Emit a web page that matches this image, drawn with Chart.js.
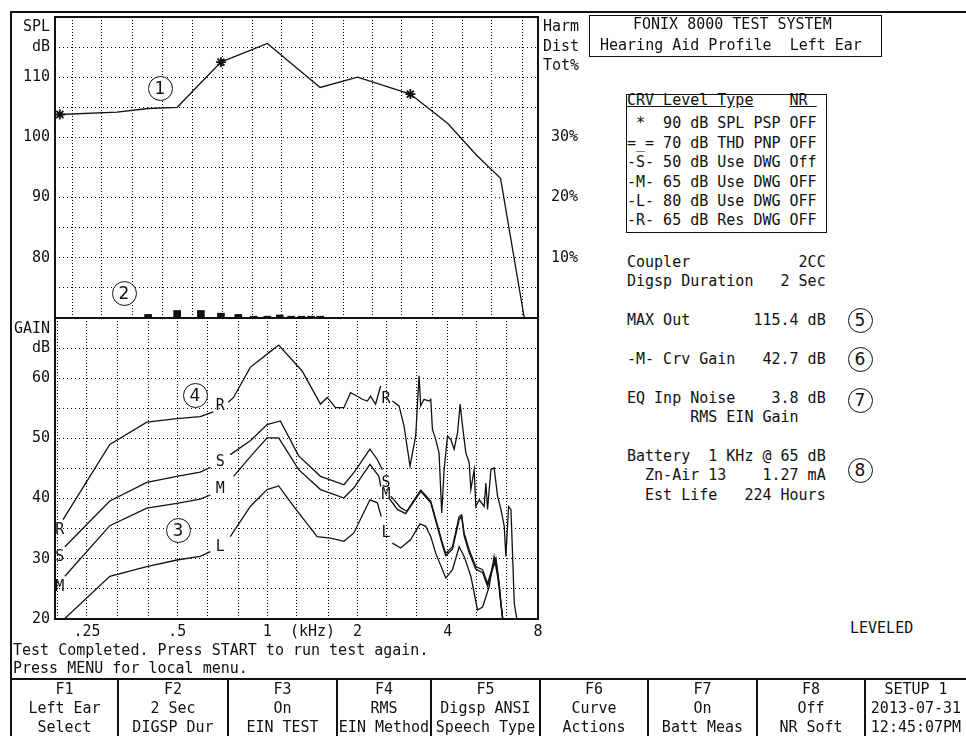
<!DOCTYPE html>
<html>
<head>
<meta charset="utf-8">
<script src="https://cdn.jsdelivr.net/npm/chart.js@4.4.0/dist/chart.umd.min.js"></script>
<style>
  body { margin: 0; background: #fff; width: 966px; height: 736px; overflow: hidden; position: relative;
         font-family: "DejaVu Sans Mono", monospace; color: #111; }
  canvas { position: absolute; }
  .t { position: absolute; font-size: 15px; line-height: 19px; white-space: pre; }
  .ln { position: absolute; background: #111; }
  .box { position: absolute; border: 1.5px solid #111; box-sizing: border-box; }
  .cn { position: absolute; width: 25px; height: 25px; border: 1.3px solid #111; border-radius: 50%;
        box-sizing: border-box; background: #fff; font: 17px "DejaVu Sans"; text-align: center; line-height: 22px; }
  .key { position: absolute; top: 680px; height: 56px; text-align: center; font-size: 15px; line-height: 19px; white-space: pre; }
</style>
</head>
<body>
<canvas id="splChart" width="600" height="320" style="left:0;top:0"></canvas>
<canvas id="gainChart" width="600" height="340" style="left:0;top:310px"></canvas>

<!-- frame -->
<div class="ln" style="left:10px;top:11px;width:956px;height:2px"></div>
<div class="ln" style="left:10px;top:11px;width:2px;height:725px"></div>
<div class="ln" style="left:10px;top:678px;width:956px;height:2px"></div>
<div class="ln" style="left:117px;top:678px;width:2px;height:58px"></div>
<div class="ln" style="left:227px;top:678px;width:2px;height:58px"></div>
<div class="ln" style="left:336px;top:678px;width:2px;height:58px"></div>
<div class="ln" style="left:430px;top:678px;width:2px;height:58px"></div>
<div class="ln" style="left:539px;top:678px;width:2px;height:58px"></div>
<div class="ln" style="left:647px;top:678px;width:2px;height:58px"></div>
<div class="ln" style="left:756px;top:678px;width:2px;height:58px"></div>
<div class="ln" style="left:864px;top:678px;width:2px;height:58px"></div>

<!-- axis captions -->
<div class="t" style="left:0;width:50px;text-align:right;top:16.5px">SPL</div>
<div class="t" style="left:0;width:50px;text-align:right;top:36.5px">dB</div>
<div class="t" style="left:0;width:50px;text-align:right;top:318.5px">GAIN</div>
<div class="t" style="left:0;width:50px;text-align:right;top:337.5px">dB</div>
<div class="t" style="left:543px;top:16.5px">Harm</div>
<div class="t" style="left:543px;top:36.5px">Dist</div>
<div class="t" style="left:543px;top:55.5px">Tot%</div>
<div class="t" style="left:290px;top:621.5px">(kHz)</div>

<!-- header -->
<div class="box" style="left:589px;top:15px;width:293px;height:42px"></div>
<div class="t" style="left:633px;top:15px">FONIX 8000 TEST SYSTEM</div>
<div class="t" style="left:600px;top:35.5px">Hearing Aid Profile  Left Ear</div>

<!-- curve legend -->
<div class="box" style="left:626px;top:94px;width:201px;height:139px"></div>
<div class="t" style="left:627px;top:91px"><u>CRV Level Type</u>    <u>NR </u></div>
<div class="t" style="left:627px;top:114.3px;line-height:19.4px"> *  90 dB SPL PSP OFF
=_= 70 dB THD PNP OFF
-S- 50 dB Use DWG Off
-M- 65 dB Use DWG OFF
-L- 80 dB Use DWG OFF
-R- 65 dB Res DWG OFF</div>

<!-- results -->
<div class="t" style="left:627px;top:252.5px;line-height:19.7px">Coupler            2CC
Digsp Duration   2 Sec</div>
<div class="t" style="left:627px;top:310.5px">MAX Out       115.4 dB</div>
<div class="t" style="left:627px;top:349.8px">-M- Crv Gain   42.7 dB</div>
<div class="t" style="left:627px;top:388.8px">EQ Inp Noise    3.8 dB
       RMS EIN Gain</div>
<div class="t" style="left:627px;top:446.5px;line-height:19.8px">Battery  1 KHz @ 65 dB
  Zn-Air 13    1.27 mA
  Est Life   224 Hours</div>
<div class="t" style="left:850px;top:618.5px">LEVELED</div>

<!-- circled callouts -->
<div class="cn" style="left:147.5px;top:75.5px">1</div>
<div class="cn" style="left:111.5px;top:280.5px">2</div>
<div class="cn" style="left:165.5px;top:517.5px">3</div>
<div class="cn" style="left:182.5px;top:382.5px">4</div>
<div class="cn" style="left:847.5px;top:307.5px">5</div>
<div class="cn" style="left:847.5px;top:346.5px">6</div>
<div class="cn" style="left:847.5px;top:387.5px">7</div>
<div class="cn" style="left:847.5px;top:457.5px">8</div>

<!-- status + function keys -->
<div class="t" style="left:13px;top:640.5px">Test Completed. Press START to run test again.</div>
<div class="t" style="left:13px;top:658.5px">Press MENU for local menu.</div>
<div class="key" style="left:12px;width:105px">F1
Left Ear
Select</div>
<div class="key" style="left:119px;width:108px">F2
2 Sec
DIGSP Dur</div>
<div class="key" style="left:229px;width:107px">F3
On
EIN TEST</div>
<div class="key" style="left:338px;width:92px">F4
RMS
EIN Method</div>
<div class="key" style="left:432px;width:107px">F5
Digsp ANSI
Speech Type</div>
<div class="key" style="left:541px;width:106px">F6
Curve
Actions</div>
<div class="key" style="left:649px;width:107px">F7
On
Batt Meas</div>
<div class="key" style="left:758px;width:106px">F8
Off
NR Soft</div>
<div class="key" style="left:866px;width:100px">SETUP 1
2013-07-31
12:45:07PM</div>

<script>
// frequency axis (kHz), 1/3-octave grid
const gridFreqs = [0.2, 0.25, 0.315, 0.4, 0.5, 0.63, 0.8, 1, 1.25, 1.6, 2, 2.5, 3.15, 4, 5, 6.3, 8];
const freqTickValues = [0.25, 0.5, 1, 2, 4, 8];
const freqTickLabels = ['.25', '.5', '1', '2', '4', '8'];
const splTickLabels = [80, 90, 100, 110];
const thdTickLabels = [10, 20, 30];
const gainTickLabels = [20, 30, 40, 50, 60];

// (1) output SPL at 90 dB input
const splFreq = [0.203, 0.315, 0.4, 0.5, 0.7, 1.0, 1.5, 2.0, 3.0, 4.0, 5.0, 6.0, 7.2];
const splLevel = [103.8, 104.2, 104.8, 105.0, 112.5, 115.6, 108.3, 110.0, 107.2, 102.3, 97.0, 93.2, 70];
const splStarIdx = [0, 4, 8];

// (2) harmonic distortion %
const thdFreq = [0.4, 0.5, 0.6, 0.7, 0.8, 0.9, 1.0, 1.1, 1.2, 1.3, 1.4, 1.5];
const thdPct = [0.6, 1.25, 1.25, 0.8, 0.6, 0.3, 0.3, 0.5, 0.3, 0.3, 0.3, 0.3];

// gain curves (null = gap where the curve letter sits)
const rFreq = [0.208, 0.298, 0.396, 0.499, 0.597, 0.66, 0.697, 0.74, 0.771, 0.877, 0.998, 1.091, 1.306, 1.504, 1.584, 1.688, 1.80, 1.895, 1.996, 2.074, 2.155, 2.21, 2.297, 2.388, 2.49, 2.613, 2.75, 2.857, 2.992, 3.126, 3.207, 3.249, 3.333, 3.464, 3.509, 3.555, 3.647, 3.74, 3.818, 3.888, 3.992, 4.093, 4.199, 4.311, 4.398, 4.479, 4.595, 4.714, 4.776, 4.898, 4.962, 5.092, 5.29, 5.36, 5.43, 5.57, 5.71, 5.864, 6.017, 6.172, 6.25, 6.382, 6.498, 6.583, 6.667, 6.788, 6.9];
const rGain = [36.5, 49.0, 52.7, 53.3, 53.6, 54.4, null, 56.0, 56.8, 61.8, 64.0, 65.5, 61.2, 55.7, 56.8, 55.1, 55.1, 57.6, 57.0, 56.5, 56.2, 57.0, 55.7, 58.7, null, 56.2, 55.4, 52.1, 45.4, 50.4, 60.4, 55.4, 56.5, 56.2, 56.5, 51.5, 49.8, 47.6, 37.6, 44.8, 50.4, 49.8, 48.2, 50.9, 55.7, 52.1, 47.6, 46.0, 41.5, 44.8, 38.7, 39.8, 38.7, 42.6, 38.2, 44.8, 45.1, 40.4, 38.2, 35.4, 30.4, 38.7, 38.2, 30.4, 22.6, 20.2, 17];

const sFreq = [0.211, 0.298, 0.396, 0.499, 0.597, 0.645, 0.697, 0.752, 0.877, 0.998, 1.105, 1.272, 1.504, 1.667, 1.80, 1.944, 2.199, 2.328, 2.419, 2.49, 2.58, 2.786, 2.917, 3.249, 3.509, 3.84, 3.939, 4.147, 4.365, 4.45, 4.535, 4.714, 4.962, 5.227, 5.43, 5.644, 5.788, 5.94, 6.017, 6.2];
const sGain = [32.0, 39.6, 42.7, 43.7, 44.4, 45.2, null, 47.3, 49.6, 52.3, 52.9, 47.1, 43.7, 42.9, 42.3, 44.3, 48.2, 46.5, 44.8, null, 40.4, 38.5, 37.9, 41.4, 39.6, 32.6, 30.9, 32.0, 37.0, 37.3, 34.3, 31.5, 28.7, 28.2, 25.9, 28.7, 30.1, 25.9, 22.7, 17];

const mFreq = [0.211, 0.298, 0.396, 0.499, 0.597, 0.645, 0.697, 0.771, 0.90, 0.998, 1.091, 1.272, 1.504, 1.667, 1.80, 1.944, 2.199, 2.357, 2.39, 2.49, 2.546, 2.715, 2.894, 3.249, 3.509, 3.84, 3.939, 4.147, 4.365, 4.45, 4.535, 4.714, 4.962, 5.227, 5.43, 5.644, 5.788, 5.94, 6.017, 6.2];
const mGain = [27.1, 35.5, 38.4, 39.2, 39.9, 40.6, null, 43.7, 47.6, 50.1, 50.1, 44.8, 41.5, 40.7, 40.1, 41.8, 45.7, 43.7, 42.0, null, 40.1, 38.2, 37.5, 41.2, 39.3, 32.2, 30.5, 31.6, 36.5, 37.0, 33.8, 31.0, 28.3, 27.7, 25.4, 28.3, 29.8, 25.5, 22.3, 17];

const lFreq = [0.205, 0.298, 0.396, 0.499, 0.597, 0.645, 0.697, 0.752, 0.877, 0.998, 1.091, 1.224, 1.466, 1.625, 1.80, 1.944, 2.199, 2.328, 2.40, 2.49, 2.613, 2.786, 3.008, 3.231, 3.377, 3.509, 3.647, 3.939, 4.147, 4.365, 4.535, 4.776, 5.027, 5.227, 5.498, 5.71, 5.864, 6.017, 6.2];
const lGain = [19.5, 27.1, 28.7, 29.8, 30.4, 31.2, null, 33.7, 38.7, 41.5, 42.1, 38.7, 33.7, 33.45, 32.9, 34.3, 39.8, 39.3, 37.0, null, 32.6, 31.8, 33.2, 35.8, 35.4, 33.7, 30.9, 26.8, 28.2, 32.0, 30.4, 27.1, 21.5, 22.0, 25.4, 30.4, 27.1, 22.7, 17];

// curve letters on the gain plot
const curveLabelText = ['R', 'S', 'M', 'R', 'S', 'M', 'L', 'R', 'S', 'M', 'L'];
const curveLabelFreq = [0.203, 0.203, 0.203, 0.697, 0.697, 0.697, 0.697, 2.49, 2.49, 2.49, 2.49];
const curveLabelGain = [34.8, 30.3, 25.3, 55.4, 46.0, 41.5, 32.0, 56.5, 42.6, 40.5, 34.3];

const INK = '#111';
const GRID = '#000';
const tickFont = { family: 'DejaVu Sans Mono', size: 15 };

const pts = (fs, vs) => fs.map((f, i) => ({ x: f, y: vs[i] }));

function freqAxis(showLabels) {
    return {
        type: 'logarithmic',
        min: 0.1956,
        max: 8,
        offset: false,
        afterBuildTicks: s => { s.ticks = gridFreqs.map(v => ({ value: v })); },
        afterFit: s => { s.height = showLabels ? 31 : 2; s.paddingLeft = 0; s.paddingRight = 0; },
        grid: { color: GRID, lineWidth: 1, drawTicks: false },
        border: { display: false, dash: [1, 2] },
        ticks: {
            display: showLabels, autoSkip: false, maxRotation: 0, padding: 4, color: INK, font: tickFont,
            callback: v => { const i = freqTickValues.indexOf(v); return i < 0 ? '' : freqTickLabels[i]; }
        }
    };
}

function levelAxis(min, max, labels) {
    return {
        position: 'left', min: min, max: max,
        afterFit: s => { s.width = 55; s.paddingTop = 0; s.paddingBottom = 0; },
        grid: { color: GRID, lineWidth: 1, drawTicks: false },
        border: { display: false, dash: [1, 3] },
        ticks: { stepSize: 5, padding: 5, color: INK, font: tickFont,
                 callback: v => labels.includes(v) ? String(v) : '' }
    };
}

// plot frame around the chart area
const framePlugin = {
    id: 'frame',
    afterDatasetsDraw(chart) {
        const { ctx, chartArea: a } = chart;
        ctx.save();
        ctx.lineWidth = 2;
        ctx.strokeStyle = INK;
        ctx.strokeRect(a.left, a.top, a.right - a.left, a.bottom - a.top);
        ctx.restore();
    }
};

const curveLabelPlugin = {
    id: 'curveLabels',
    afterDatasetsDraw(chart) {
        const { ctx, scales: { x, y } } = chart;
        ctx.save();
        ctx.font = '15px "DejaVu Sans Mono"';
        ctx.fillStyle = INK;
        ctx.textAlign = 'center';
        ctx.textBaseline = 'middle';
        curveLabelText.forEach((t, i) => {
            ctx.fillText(t, x.getPixelForValue(curveLabelFreq[i]), y.getPixelForValue(curveLabelGain[i]));
        });
        ctx.restore();
    }
};

const lineStyle = { borderColor: INK, borderWidth: 1.3, pointRadius: 0, tension: 0, spanGaps: false };

new Chart(document.getElementById('splChart'), {
    type: 'line',
    data: {
        datasets: [
            { ...lineStyle, data: pts(splFreq, splLevel), yAxisID: 'y' },
            { data: splStarIdx.map(i => ({ x: splFreq[i], y: splLevel[i] })), yAxisID: 'y', showLine: false,
              pointStyle: 'star', pointRadius: 5, borderColor: INK, borderWidth: 1.8 },
            { type: 'bar', data: pts(thdFreq, thdPct), yAxisID: 'y2', backgroundColor: INK, barThickness: 7, borderWidth: 0 }
        ]
    },
    options: {
        responsive: false,
        animation: false,
        layout: { autoPadding: false, padding: { top: 17, left: 0, right: 0, bottom: 0 } },
        plugins: { legend: { display: false }, tooltip: { enabled: false } },
        scales: {
            x: freqAxis(false),
            y: levelAxis(70, 120, splTickLabels),
            y2: {
                position: 'right', min: 0, max: 50,
                afterFit: s => { s.width = 62; s.paddingTop = 0; s.paddingBottom = 0; },
                grid: { display: false },
                border: { display: false },
                ticks: { stepSize: 10, padding: 5, color: INK, font: tickFont,
                         callback: v => thdTickLabels.includes(v) ? v + '%' : '' }
            }
        }
    },
    plugins: [framePlugin]
});

new Chart(document.getElementById('gainChart'), {
    type: 'line',
    data: {
        datasets: [
            { ...lineStyle, data: pts(rFreq, rGain) },
            { ...lineStyle, data: pts(sFreq, sGain) },
            { ...lineStyle, data: pts(mFreq, mGain) },
            { ...lineStyle, data: pts(lFreq, lGain) }
        ]
    },
    options: {
        responsive: false,
        animation: false,
        layout: { autoPadding: false, padding: { top: 8, left: 0, right: 62, bottom: 0 } },
        plugins: { legend: { display: false }, tooltip: { enabled: false } },
        scales: {
            x: freqAxis(true),
            y: levelAxis(20, 70, gainTickLabels)
        }
    },
    plugins: [framePlugin, curveLabelPlugin]
});
</script>
</body>
</html>
